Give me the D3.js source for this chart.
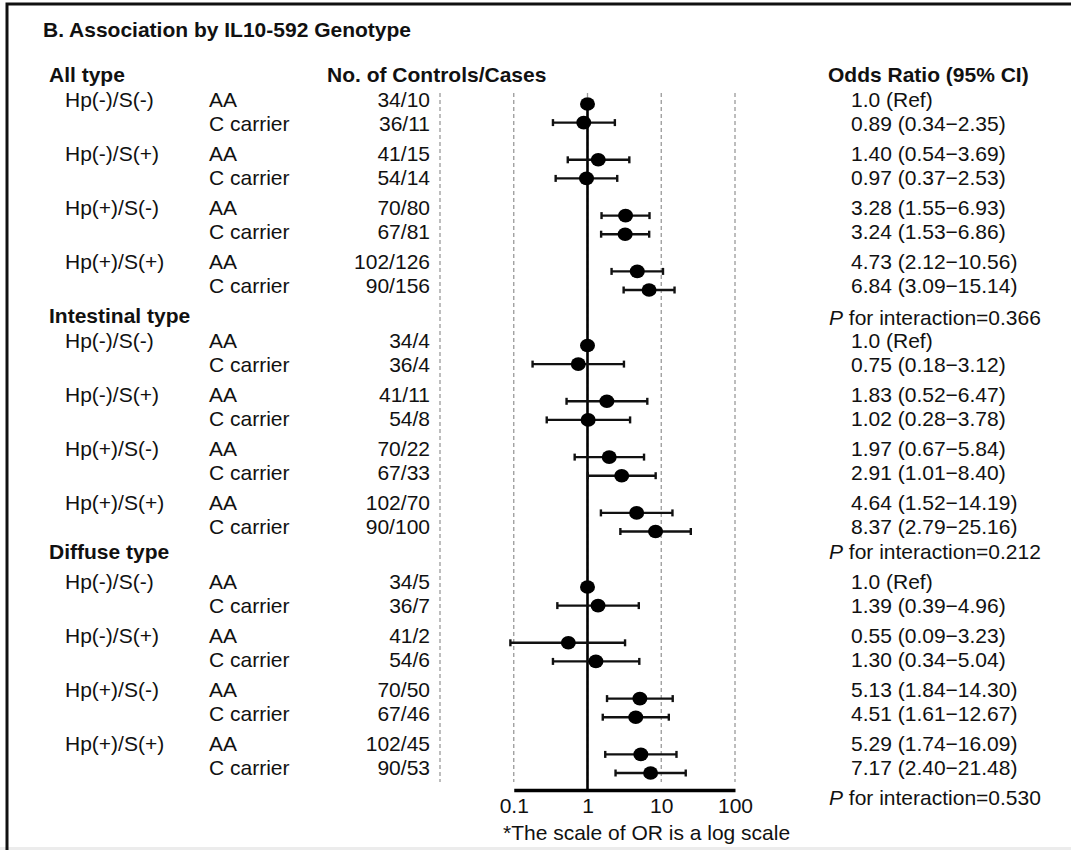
<!DOCTYPE html>
<html><head>
<meta charset="utf-8">
<title>Association by IL10-592 Genotype</title>
<script src="https://d3js.org/d3.v7.min.js"></script>
<style>
  body { margin: 0; background: #fff; }
  svg text { font-family: "Liberation Sans", Arial, sans-serif; font-size: 21px; fill: #111; }
  .bold { font-weight: bold; }
  .grid { stroke: #9a9a9a; stroke-width: 1.3; stroke-dasharray: 4,3; }
  .axis .domain { stroke: #000; stroke-width: 3.5; }
</style>
</head>
<body>
<svg id="forest" width="1071" height="850"></svg>

<script>
  // ---- data
  const groups = ["All type", "Intestinal type", "Diffuse type"];
  const strata = ["Hp(-)/S(-)", "Hp(-)/S(+)", "Hp(+)/S(-)", "Hp(+)/S(+)"];
  const genotypes = ["AA", "C carrier"];

  // controls/cases, 8 per group (stratum x genotype)
  const counts = [
    ["34/10", "36/11", "41/15", "54/14", "70/80", "67/81", "102/126", "90/156"],
    ["34/4", "36/4", "41/11", "54/8", "70/22", "67/33", "102/70", "90/100"],
    ["34/5", "36/7", "41/2", "54/6", "70/50", "67/46", "102/45", "90/53"]
  ];
  // odds ratios, null lower/upper = reference
  const oddsRatio = [
    [1.0, 0.89, 1.40, 0.97, 3.28, 3.24, 4.73, 6.84],
    [1.0, 0.75, 1.83, 1.02, 1.97, 2.91, 4.64, 8.37],
    [1.0, 1.39, 0.55, 1.30, 5.13, 4.51, 5.29, 7.17]
  ];
  const ciLower = [
    [null, 0.34, 0.54, 0.37, 1.55, 1.53, 2.12, 3.09],
    [null, 0.18, 0.52, 0.28, 0.67, 1.01, 1.52, 2.79],
    [null, 0.39, 0.09, 0.34, 1.84, 1.61, 1.74, 2.40]
  ];
  const ciUpper = [
    [null, 2.35, 3.69, 2.53, 6.93, 6.86, 10.56, 15.14],
    [null, 3.12, 6.47, 3.78, 5.84, 8.40, 14.19, 25.16],
    [null, 4.96, 3.23, 5.04, 14.30, 12.67, 16.09, 21.48]
  ];
  const pInteraction = ["0.366", "0.212", "0.530"];
  const gridValues = [0.01, 0.1, 1, 10, 100];
  const tickValues = [0.1, 1, 10, 100];
  const tickLabels = ["0.1", "1", "10", "100"];

  // flatten into rows
  let rows = [];
  groups.forEach( (g, gi) => {
    strata.forEach( (s, si) => {
      genotypes.forEach( (gt, ki) => {
        const i = si * 2 + ki;
        rows.push( { group: gi, pair: si, k: ki, stratum: s, genotype: gt,
                     count: counts[gi][i], or: oddsRatio[gi][i],
                     lo: ciLower[gi][i], hi: ciUpper[gi][i] } );
      });
    });
  });

  const svg = d3.select( "svg#forest" );

  // frame (top + left rule, light bottom edge)
  svg.append( "rect" ).attr( "x", 0 ).attr( "y", 847 ).attr( "width", 1071 ).attr( "height", 3 ).attr( "fill", "#ececec" );
  svg.append( "path" ).attr( "d", "M7,850 V4 H1071" ).attr( "fill", "none" )
     .attr( "stroke", "#111" ).attr( "stroke-width", 3 );

  // ---- layout scales
  const x = d3.scaleLog().domain( [0.01, 100] ).range( [440, 735] );
  // text table rows and plot rows are spaced a little differently in the original
  const textY = d => 100 + d.group * 241 + d.pair * 54 + d.k * 23.3;
  const dotY = d => 104 + d.group * 241.5 + d.pair * 55.8 + d.k * 18.6;
  const headerY = [75, 316, 552];
  const pY = [318, 552, 798];

  // title + column headers
  svg.append( "text" ).attr( "class", "bold" ).attr( "x", 43 ).attr( "y", 30 ).attr( "dy", "0.35em" )
     .text( "B. Association by IL10-592 Genotype" );
  svg.append( "text" ).attr( "class", "bold" ).attr( "x", 327 ).attr( "y", headerY[0] ).attr( "dy", "0.35em" )
     .text( "No. of Controls/Cases" );
  svg.append( "text" ).attr( "class", "bold" ).attr( "x", 828 ).attr( "y", headerY[0] ).attr( "dy", "0.35em" )
     .text( "Odds Ratio (95% CI)" );

  groups.forEach( (g, gi) => {
    svg.append( "text" ).attr( "class", "bold" ).attr( "x", 49 ).attr( "y", headerY[gi] ).attr( "dy", "0.35em" ).text( g );
    let p = svg.append( "text" ).attr( "x", 829 ).attr( "y", pY[gi] ).attr( "dy", "0.35em" );
    p.append( "tspan" ).attr( "font-style", "italic" ).text( "P" );
    p.append( "tspan" ).text( " for interaction=" + pInteraction[gi] );
  });

  // table text
  const table = svg.append( "g" );
  rows.forEach( d => {
    if ( d.k == 0 ) {
      table.append( "text" ).attr( "x", 65 ).attr( "y", textY( d ) ).attr( "dy", "0.35em" ).text( d.stratum );
    }
    table.append( "text" ).attr( "x", 209 ).attr( "y", textY( d ) ).attr( "dy", "0.35em" ).text( d.genotype );
    table.append( "text" ).attr( "x", 430 ).attr( "y", textY( d ) ).attr( "dy", "0.35em" )
         .attr( "text-anchor", "end" ).text( d.count );
    const lab = d.lo == null ? d.or.toFixed( 1 ) + " (Ref)"
              : d.or.toFixed( 2 ) + " (" + d.lo.toFixed( 2 ) + "\u2212" + d.hi.toFixed( 2 ) + ")";
    table.append( "text" ).attr( "x", 851 ).attr( "y", textY( d ) ).attr( "dy", "0.35em" ).text( lab );
  });

  // dashed gridlines
  const yTop = 93, yAxis = 790;
  svg.append( "g" ).selectAll( "line" ).data( gridValues ).join( "line" )
     .attr( "class", "grid" )
     .attr( "x1", d => x( d ) ).attr( "x2", d => x( d ) )
     .attr( "y1", yTop ).attr( "y2", yAxis - 8 );

  // reference line at OR = 1
  svg.append( "line" ).attr( "x1", x( 1 ) ).attr( "x2", x( 1 ) )
     .attr( "y1", dotY( rows[0] ) - 6 ).attr( "y2", yAxis )
     .attr( "stroke", "#000" ).attr( "stroke-width", 2.6 );

  // bottom axis from 0.1 to 100
  const axisScale = x.copy().domain( [0.1, 100] ).range( [x( 0.1 ), x( 100 )] );
  const ax = svg.append( "g" ).attr( "class", "axis" ).attr( "transform", "translate(0," + yAxis + ")" )
     .call( d3.axisBottom( axisScale ).tickValues( tickValues ).tickSize( 0 )
            .tickFormat( (d, i) => tickLabels[i] ) );
  ax.selectAll( "text" ).attr( "y", 16 ).attr( "dy", "0.35em" )
     .style( "font-family", "'Liberation Sans', Arial, sans-serif" ).style( "font-size", "21px" ).attr( "fill", "#111" );
  ax.select( ".domain" ).attr( "stroke-linecap", "butt" );

  svg.append( "text" ).attr( "x", 503 ).attr( "y", 833 ).attr( "dy", "0.35em" )
     .text( "*The scale of OR is a log scale" );

  // error bars + points
  const marks = svg.append( "g" );
  const ciRows = rows.filter( d => d.lo != null );
  marks.selectAll( "line.ci" ).data( ciRows ).join( "line" ).attr( "class", "ci" )
       .attr( "x1", d => x( d.lo ) ).attr( "x2", d => x( d.hi ) )
       .attr( "y1", dotY ).attr( "y2", dotY )
       .attr( "stroke", "#111" ).attr( "stroke-width", 2.4 );
  ["lo", "hi"].forEach( end => {
    marks.selectAll( "line.cap-" + end ).data( ciRows ).join( "line" ).attr( "class", "cap-" + end )
         .attr( "x1", d => x( d[end] ) ).attr( "x2", d => x( d[end] ) )
         .attr( "y1", d => dotY( d ) - 3.5 ).attr( "y2", d => dotY( d ) + 3.5 )
         .attr( "stroke", "#111" ).attr( "stroke-width", 2.4 );
  });
  marks.selectAll( "ellipse" ).data( rows ).join( "ellipse" )
       .attr( "cx", d => x( d.or ) ).attr( "cy", dotY )
       .attr( "rx", 7.5 ).attr( "ry", 6.8 ).attr( "fill", "#000" );
</script>
</body>
</html>
